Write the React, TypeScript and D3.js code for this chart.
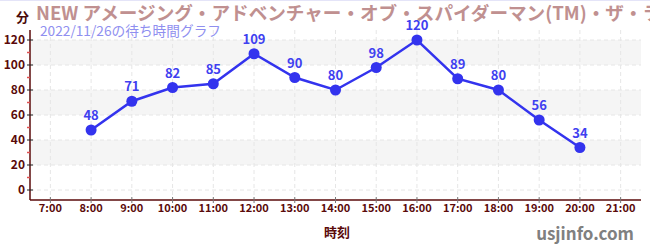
import React from "react";
import * as d3 from "d3";

const hours = [8, 9, 10, 11, 12, 13, 14, 15, 16, 17, 18, 19, 20];
const waits = [48, 71, 82, 85, 109, 90, 80, 98, 120, 89, 80, 56, 34];
const xTicks = [7, 8, 9, 10, 11, 12, 13, 14, 15, 16, 17, 18, 19, 20, 21];
const yTicks = [0, 20, 40, 60, 80, 100, 120];
const yMinor = [10, 30, 50, 70, 90, 110];
const bands: [number, number][] = [[20, 40], [60, 80], [100, 120]];
const title = "NEW アメージング・アドベンチャー・オブ・スパイダーマン(TM)・ザ・ライド 4K3D";
const subtitle = "2022/11/26の待ち時間グラフ";

export default function App() {
  const W = 650, H = 250;
  const left = 30, right = 641, top = 30, bottom = 200;
  const x = d3.scaleLinear().domain([6.5, 21.5]).range([left, right]);
  const y = d3.scaleLinear().domain([-8, 128]).range([bottom, top]);
  const line = d3.line<number>().x((_, i) => x(hours[i])).y((d) => y(d));
  const font = "'Noto Sans CJK JP', 'Noto Sans', sans-serif";
  const axisColor = "#5a0a0a";
  return (
    <svg width={W} height={H} style={{ position: "absolute", left: 0, top: 0, display: "block" }} fontFamily={font}>
      <rect x={0} y={0} width={W} height={H} fill="#fff" />
      <line x1={0} x2={W} y1={0.5} y2={0.5} stroke="#e4e4f8" />
      {bands.map(([a, b]) => (
        <rect key={a} x={left} width={right - left} y={y(b)} height={y(a) - y(b)} fill="#f5f5f5" />
      ))}
      {yTicks.map((t) => (
        <line key={"gy" + t} x1={left} x2={right} y1={y(t)} y2={y(t)} stroke="#e6e6e6" strokeDasharray="4,3" />
      ))}
      {xTicks.map((t) => (
        <line key={"gx" + t} x1={x(t)} x2={x(t)} y1={top} y2={bottom} stroke="#e6e6e6" strokeDasharray="4,3" />
      ))}
      <line x1={left} x2={left} y1={top} y2={bottom} stroke={axisColor} strokeWidth={1.5} />
      <line x1={left} x2={right} y1={bottom} y2={bottom} stroke={axisColor} strokeWidth={1.5} />
      {yMinor.map((t) => (
        <line key={"my" + t} x1={left - 3} x2={left} y1={y(t)} y2={y(t)} stroke="#e05050" strokeWidth={1.5} />
      ))}
      {yTicks.map((t) => (
        <g key={"ty" + t}>
          <line x1={left - 3} x2={left + 3} y1={y(t)} y2={y(t)} stroke="#222" />
          <text x={left - 5} y={y(t)} dy="0.35em" textAnchor="end" fontSize={12} fontWeight={700} fill={axisColor}>{t}</text>
        </g>
      ))}
      {xTicks.map((t) => (
        <g key={"tx" + t}>
          <line x1={x(t)} x2={x(t)} y1={bottom - 3} y2={bottom + 3} stroke="#777" />
          <text x={x(t)} y={212} textAnchor="middle" fontSize={11} fontWeight={600} fill={axisColor}>{t}:00</text>
        </g>
      ))}
      <path d={line(waits) || ""} fill="none" stroke="#3333ee" strokeWidth={2.5} />
      {waits.map((v, i) => (
        <g key={"p" + i}>
          <circle cx={x(hours[i])} cy={y(v)} r={5.5} fill="#3333ee" />
          <text x={x(hours[i])} y={y(v) - 10} textAnchor="middle" fontSize={13} fontWeight={700} fill="#4040f0">{v}</text>
        </g>
      ))}
      <text x={16} y={22} fontSize={13} fontWeight={700} fill="#4a0a0a">分</text>
      <text x={36} y={20} fontSize={18.6} fontWeight={700} fill="#c09090">{title}</text>
      <text x={40} y={36} fontSize={13.7} fill="#8f8ff0">{subtitle}</text>
      <text x={337} y={237} textAnchor="middle" fontSize={13} fontWeight={700} fill={axisColor}>時刻</text>
      <text x={634} y={240} textAnchor="end" fontSize={17} fontWeight={700} fill="#808080">usjinfo.com</text>
    </svg>
  );
}
